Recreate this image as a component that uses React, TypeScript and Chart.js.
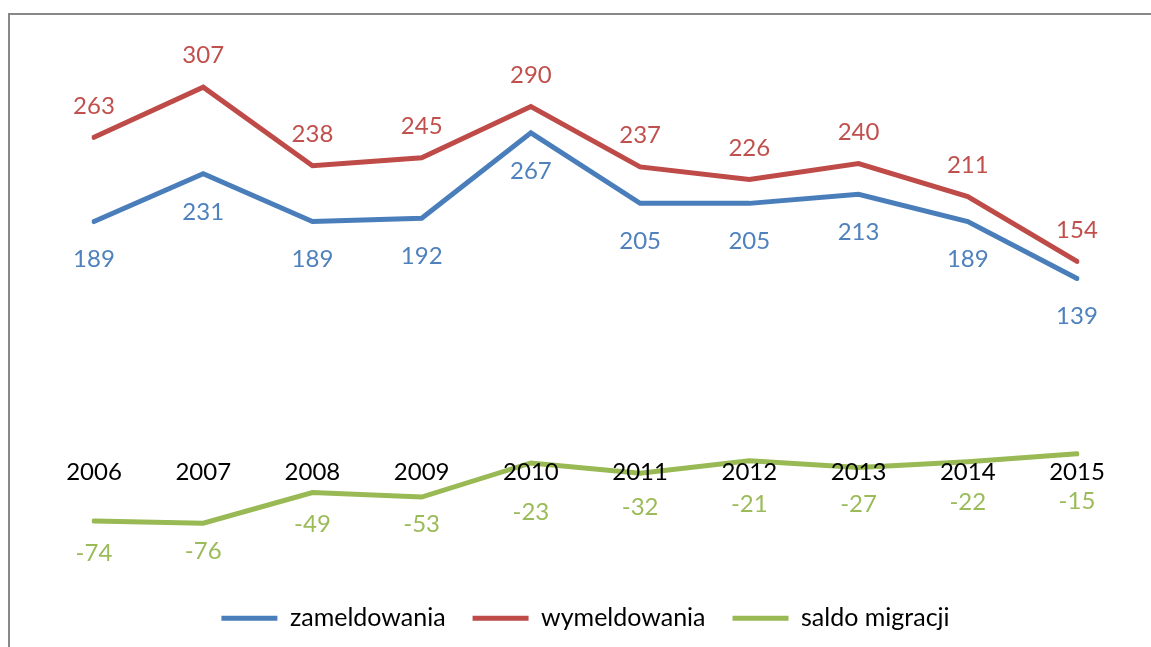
import React, { useEffect, useRef } from "react";
import { Chart, registerables } from "chart.js";

Chart.register(...registerables);

const years = ["2006", "2007", "2008", "2009", "2010", "2011", "2012", "2013", "2014", "2015"];
const zameldowania = [189, 231, 189, 192, 267, 205, 205, 213, 189, 139];
const wymeldowania = [263, 307, 238, 245, 290, 237, 226, 240, 211, 154];
const saldoMigracji = [-74, -76, -49, -53, -23, -32, -21, -27, -22, -15];
const seriesNames = ["zameldowania", "wymeldowania", "saldo migracji"];

const lineColors = ["#4A7EBB", "#BE4B48", "#98B954"];
const labelColors = ["#4F81BD", "#C0504D", "#9BBB59"];
// vertical offsets (px) of each data label from its point
const labelOffsets = [
  [36, 36, 36, 36, 36, 36, 36, 36, 36, 36],
  [-33.5, -33.5, -33.5, -33.5, -33.5, -33.5, -33.5, -33.5, -33.5, -33.5],
  [30, 26, 30, 25, 47, 32, 42, 35, 38, 45],
];
const TEXT_SHIFT = 2; // baseline correction for the substitute font
const FONT = "Lato";

const labelPlugin = {
  id: "excelLabels",
  afterDatasetsDraw(chart: any) {
    const ctx = chart.ctx;
    ctx.save();
    ctx.font = `24px ${FONT}`;
    ctx.textAlign = "center";
    ctx.textBaseline = "middle";
    chart.data.datasets.forEach((ds: any, i: number) => {
      const meta = chart.getDatasetMeta(i);
      ctx.fillStyle = labelColors[i];
      meta.data.forEach((pt: any, j: number) => {
        ctx.fillText(String(ds.data[j]), pt.x, pt.y + labelOffsets[i][j] + TEXT_SHIFT);
      });
    });
    const xs = chart.scales.x;
    const ys = chart.scales.y;
    const yLab = ys.getPixelForValue(0) + 34 + TEXT_SHIFT;
    ctx.fillStyle = "#000000";
    years.forEach((yr, j) => {
      ctx.fillText(yr, xs.getPixelForValue(j), yLab);
    });
    ctx.restore();
  },
};

export default function App() {
  const canvasRef = useRef<HTMLCanvasElement | null>(null);

  useEffect(() => {
    const canvas = canvasRef.current;
    if (!canvas) return;
    const series = [zameldowania, wymeldowania, saldoMigracji];
    const chart = new Chart(canvas, {
      type: "line",
      data: {
        labels: years,
        datasets: series.map((d, i) => ({
          label: seriesNames[i],
          data: d,
          borderColor: lineColors[i],
          backgroundColor: lineColors[i],
          borderWidth: 5,
          borderCapStyle: "round" as const,
          pointRadius: 0,
          pointHoverRadius: 0,
          fill: false,
          tension: 0,
        })),
      },
      options: {
        responsive: false,
        animation: false,
        layout: { padding: { top: 38.3, left: 94, right: 74, bottom: 6.3 } },
        scales: {
          x: { display: false },
          y: { display: false, min: -124.7, max: 350 },
        },
        plugins: {
          tooltip: { enabled: false },
          legend: {
            display: true,
            position: "bottom",
            labels: {
              usePointStyle: true,
              pointStyle: "line",
              pointStyleWidth: 56,
              padding: 27,
              color: "#000000",
              font: { family: FONT, size: 25 },
            },
          },
        },
      },
      plugins: [labelPlugin],
    });
    return () => chart.destroy();
  }, []);

  return (
    <div
      style={{
        position: "absolute",
        left: 0,
        top: 0,
        width: 1151,
        height: 647,
        overflow: "hidden",
        background: "#ffffff",
      }}
    >
      <canvas
        ref={canvasRef}
        width={1151}
        height={647}
        style={{ position: "absolute", left: 0, top: 0, display: "block" }}
      />
      <div
        style={{
          position: "absolute",
          left: 8,
          top: 13,
          width: 1200,
          height: 700,
          borderLeft: "2px solid #888888",
          borderTop: "2px solid #888888",
          pointerEvents: "none",
        }}
      />
    </div>
  );
}
